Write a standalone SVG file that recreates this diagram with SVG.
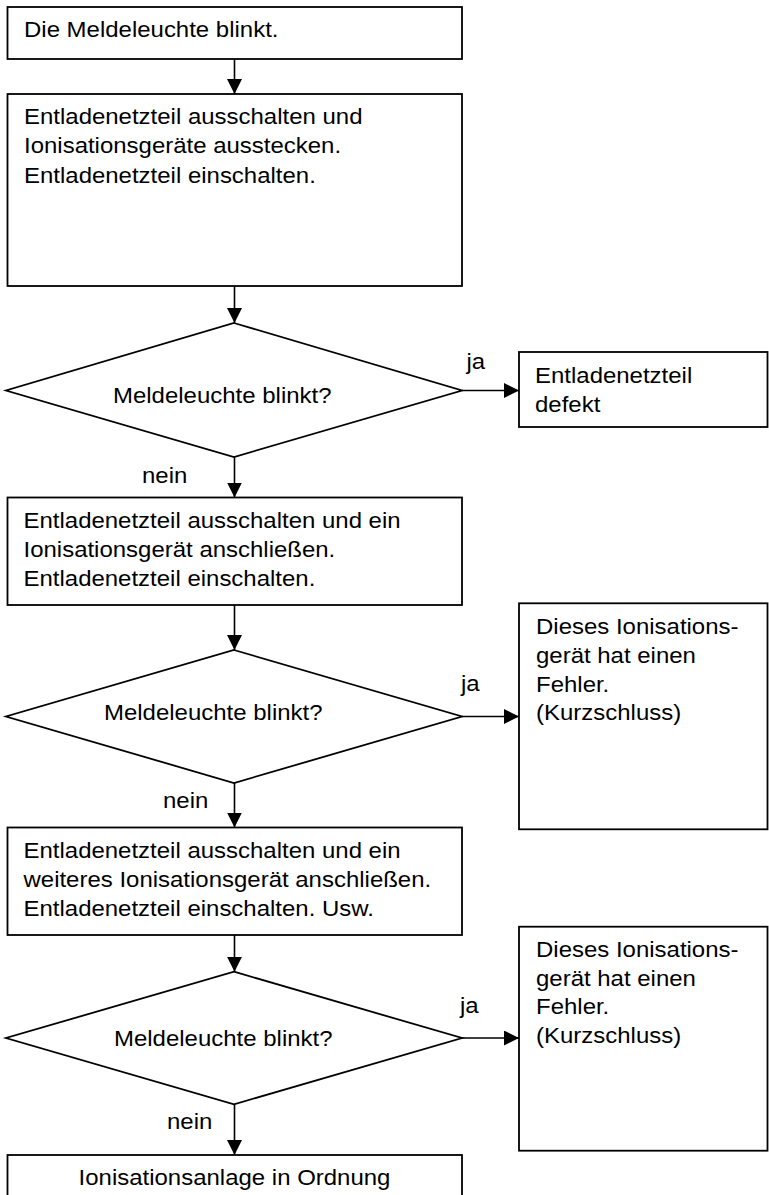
<svg xmlns="http://www.w3.org/2000/svg" width="769" height="1195" viewBox="0 0 769 1195">
<style>
.box{fill:#fff;stroke:#000;stroke-width:1.8}
.dia{fill:#fff;stroke:#000;stroke-width:1.8;stroke-linejoin:miter}
.con{fill:none;stroke:#000;stroke-width:1.6}
text{font-family:"Liberation Sans",Arial,Helvetica,sans-serif;font-size:22px;fill:#000}
</style>
<defs>
<marker id="ah" markerUnits="userSpaceOnUse" markerWidth="15" markerHeight="15" viewBox="0 0 15 15" refX="15" refY="7.5" orient="auto">
<path d="M0,0 L15,7.5 L0,15 z" fill="#000"/>
</marker>
</defs>
<rect width="769" height="1195" fill="#fff"/>
<g id="connectors">
<line class="con" x1="234.5" y1="59" x2="234.5" y2="94" marker-end="url(#ah)"/>
<line class="con" x1="234.5" y1="286" x2="234.5" y2="323" marker-end="url(#ah)"/>
<line class="con" x1="234.5" y1="457" x2="234.5" y2="497.5" marker-end="url(#ah)"/>
<line class="con" x1="234.5" y1="605" x2="234.5" y2="650" marker-end="url(#ah)"/>
<line class="con" x1="234.5" y1="783" x2="234.5" y2="827.5" marker-end="url(#ah)"/>
<line class="con" x1="234.5" y1="935" x2="234.5" y2="971.7" marker-end="url(#ah)"/>
<line class="con" x1="234.5" y1="1104.3" x2="234.5" y2="1155" marker-end="url(#ah)"/>
<line class="con" x1="462" y1="390.5" x2="519" y2="390.5" marker-end="url(#ah)"/>
<line class="con" x1="462" y1="716.5" x2="519" y2="716.5" marker-end="url(#ah)"/>
<line class="con" x1="462" y1="1038" x2="519" y2="1038" marker-end="url(#ah)"/>
<text transform="translate(466.5,369) scale(1.09,1)">ja</text>
<text transform="translate(142,483) scale(1.09,1)">nein</text>
<text transform="translate(461,691) scale(1.09,1)">ja</text>
<text transform="translate(163,808) scale(1.09,1)">nein</text>
<text transform="translate(460,1013) scale(1.09,1)">ja</text>
<text transform="translate(167,1129) scale(1.09,1)">nein</text>
</g>
<g id="start">
<rect class="box" x="7.5" y="7" width="454.5" height="52"/>
<text transform="translate(24,37) scale(1.09,1)">Die Meldeleuchte blinkt.</text>
</g>
<g id="step1">
<rect class="box" x="7.5" y="94" width="454.5" height="192"/>
<text transform="translate(24,124) scale(1.09,1)"><tspan x="0" y="0">Entladenetzteil ausschalten und</tspan><tspan x="0" y="29.3">Ionisationsgeräte ausstecken.</tspan><tspan x="0" y="58.6">Entladenetzteil einschalten.</tspan></text>
</g>
<g id="decision1">
<polygon class="dia" points="234,323 462,390.5 234,457 6,390.5"/>
<text transform="translate(113,403) scale(1.09,1)">Meldeleuchte blinkt?</text>
</g>
<g id="result1">
<rect class="box" x="519" y="352" width="248.5" height="75"/>
<text transform="translate(535,383) scale(1.09,1)"><tspan x="0" y="0">Entladenetzteil</tspan><tspan x="0" y="29">defekt</tspan></text>
</g>
<g id="step2">
<rect class="box" x="7.5" y="497.5" width="454.5" height="107.5"/>
<text transform="translate(23.5,528) scale(1.09,1)"><tspan x="0" y="0">Entladenetzteil ausschalten und ein</tspan><tspan x="0" y="29">Ionisationsgerät anschließen.</tspan><tspan x="0" y="58">Entladenetzteil einschalten.</tspan></text>
</g>
<g id="decision2">
<polygon class="dia" points="234,650 462,716.5 234,783 6,716.5"/>
<text transform="translate(104,720) scale(1.09,1)">Meldeleuchte blinkt?</text>
</g>
<g id="result2">
<rect class="box" x="519" y="603.3" width="248.5" height="226"/>
<text transform="translate(536,634) scale(1.09,1)"><tspan x="0" y="0">Dieses Ionisations-</tspan><tspan x="0" y="29">gerät hat einen</tspan><tspan x="0" y="58">Fehler.</tspan><tspan x="0" y="86.5">(Kurzschluss)</tspan></text>
</g>
<g id="step3">
<rect class="box" x="7.5" y="827.5" width="454.5" height="107.5"/>
<text transform="translate(23.5,858) scale(1.09,1)"><tspan x="0" y="0">Entladenetzteil ausschalten und ein</tspan><tspan x="0" y="29">weiteres Ionisationsgerät anschließen.</tspan><tspan x="0" y="58">Entladenetzteil einschalten. Usw.</tspan></text>
</g>
<g id="decision3">
<polygon class="dia" points="234,971.7 462,1038 234,1104.3 6,1038"/>
<text transform="translate(114,1046) scale(1.09,1)">Meldeleuchte blinkt?</text>
</g>
<g id="result3">
<rect class="box" x="519" y="926.7" width="248.5" height="224"/>
<text transform="translate(536,957) scale(1.09,1)"><tspan x="0" y="0">Dieses Ionisations-</tspan><tspan x="0" y="29">gerät hat einen</tspan><tspan x="0" y="57.5">Fehler.</tspan><tspan x="0" y="86">(Kurzschluss)</tspan></text>
</g>
<g id="end">
<rect class="box" x="7.5" y="1155" width="454.5" height="60"/>
<text transform="translate(234.5,1185) scale(1.09,1)" text-anchor="middle">Ionisationsanlage in Ordnung</text>
</g>
</svg>
